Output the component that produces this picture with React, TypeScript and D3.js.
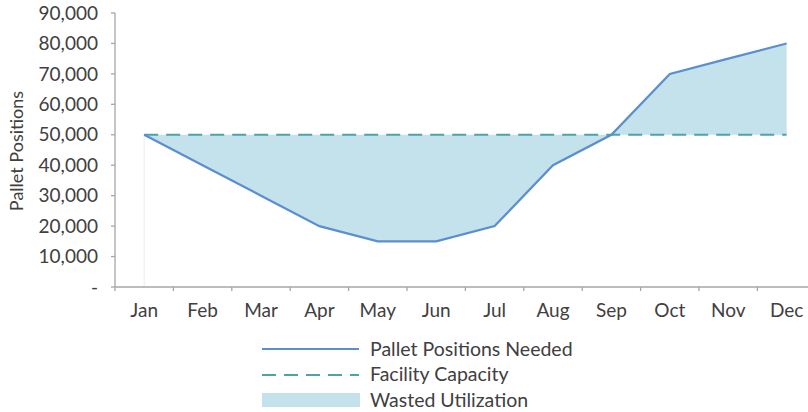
import React from "react";
import * as d3 from "d3";

const months = ["Jan","Feb","Mar","Apr","May","Jun","Jul","Aug","Sep","Oct","Nov","Dec"];
const needed = [50000,40000,30000,20000,15000,15000,20000,40000,50000,70000,75000,80000];
const capacity = [50000,50000,50000,50000,50000,50000,50000,50000,50000,50000,50000,50000];
const yTicks = [0,10000,20000,30000,40000,50000,60000,70000,80000,90000];
const legendItems = ["Pallet Positions Needed","Facility Capacity","Wasted Utilization"];

export default function App() {
  const W = 808, H = 412;
  const left = 115, top = 13, bottom = 287;
  const x = d3.scaleBand<string>().domain(months).range([left, left + 12 * 58.4]);
  const cx = (m: string) => (x(m) as number) + x.bandwidth() / 2;
  const y = d3.scaleLinear().domain([0, 90000]).range([bottom, top]);
  const fmt = d3.format(",");

  const idx = months.map((_, i) => i);
  const area = d3.area<number>()
    .x(i => cx(months[i]))
    .y0(i => y(capacity[i]))
    .y1(i => y(needed[i]));
  const line = d3.line<number>().x(i => cx(months[i])).y(i => y(needed[i]));
  const capLine = d3.line<number>().x(i => cx(months[i])).y(i => y(capacity[i]));

  const font = "Lato, 'Open Sans', sans-serif";
  const txt = "#404040";
  const axisCol = "#a6a6a6";
  const lineCol = "#5b8ed0";
  const dashCol = "#4ea2aa";
  const fillCol = "#c3e2eb";

  return (
    <svg width={W} height={H} style={{ position: "absolute", left: 0, top: 0, fontFamily: font }}>
      <rect width={W} height={H} fill="#fff" />
      <path d={area(idx) ?? ""} fill={fillCol} />
      <line x1={cx("Jan")} x2={cx("Jan")} y1={y(needed[0])} y2={bottom} stroke="#ececec" strokeWidth={1} />
      <path d={capLine(idx) ?? ""} fill="none" stroke={dashCol} strokeWidth={2} strokeDasharray="14,8" />
      <path d={line(idx) ?? ""} fill="none" stroke={lineCol} strokeWidth={2.2} />
      {/* y axis */}
      <line x1={left} x2={left} y1={top} y2={bottom} stroke={axisCol} strokeWidth={1.3} />
      {yTicks.map(t => (
        <g key={t}>
          <line x1={left - 4} x2={left} y1={y(t)} y2={y(t)} stroke={axisCol} strokeWidth={1.3} />
          <text x={98} y={y(t)} dy="0.35em" textAnchor="end" fontSize={19} fill={txt}>
            {t === 0 ? "-" : fmt(t)}
          </text>
        </g>
      ))}
      {/* x axis */}
      <line x1={left} x2={W} y1={bottom} y2={bottom} stroke={axisCol} strokeWidth={1.3} />
      {months.map(m => (
        <g key={m}>
          <line x1={x(m) as number} x2={x(m) as number} y1={bottom} y2={bottom + 4} stroke={axisCol} strokeWidth={1.3} />
          <text x={cx(m)} y={317} textAnchor="middle" fontSize={19} fill={txt}>{m}</text>
        </g>
      ))}
      <text transform={`translate(23,${151}) rotate(-90)`} textAnchor="middle" fontSize={18} fill={txt}>
        Pallet Positions
      </text>
      {/* legend */}
      <line x1={262} x2={359} y1={349} y2={349} stroke={lineCol} strokeWidth={2.2} />
      <line x1={262} x2={359} y1={375} y2={375} stroke={dashCol} strokeWidth={2} strokeDasharray="14,8" />
      <rect x={262} y={393} width={98} height={14} fill={fillCol} />
      {legendItems.map((s, i) => (
        <text key={s} x={370} y={349 + i * 25.5} dy="0.35em" fontSize={19.5} fill={txt}>{s}</text>
      ))}
    </svg>
  );
}
